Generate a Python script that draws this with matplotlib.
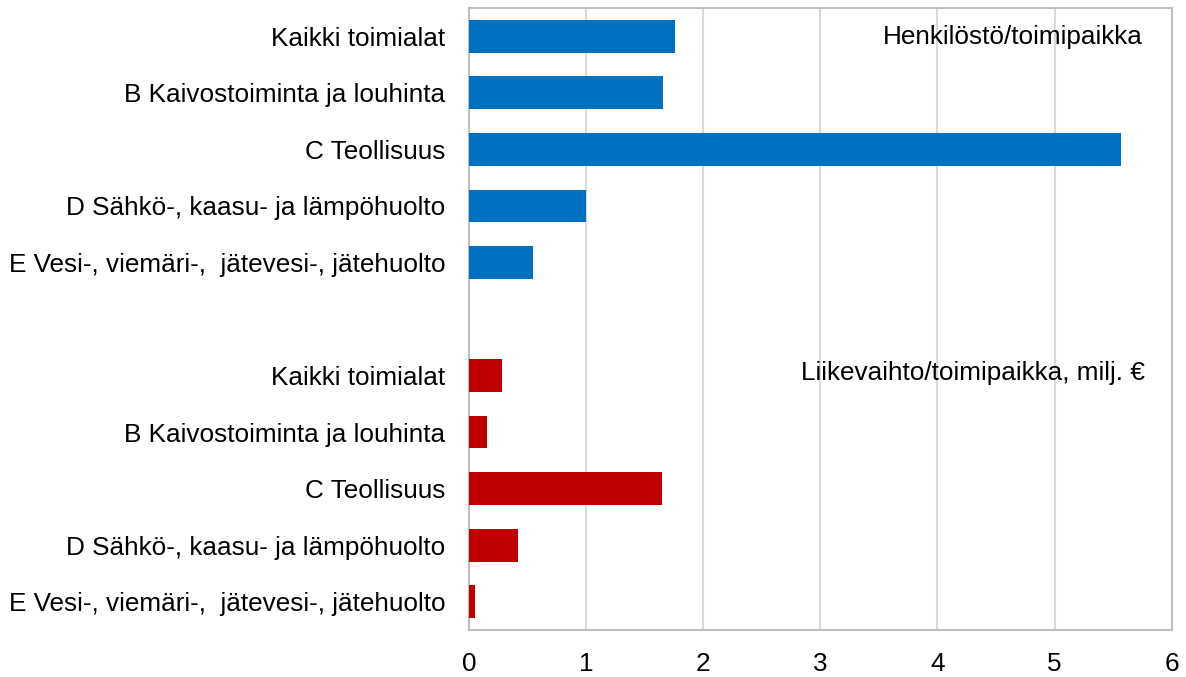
import matplotlib.pyplot as plt
import numpy as np

plt.rcParams["font.family"] = ["Liberation Sans", "DejaVu Sans"]

toimialat = [
    "Kaikki toimialat",
    "B Kaivostoiminta ja louhinta",
    "C Teollisuus",
    "D Sähkö-, kaasu- ja lämpöhuolto",
    "E Vesi-, viemäri-,  jätevesi-, jätehuolto",
]
henkilosto = [1.76, 1.66, 5.57, 1.00, 0.55]
liikevaihto = [0.28, 0.15, 1.65, 0.42, 0.05]

fs = 18.8

fig = plt.figure(figsize=(11.86, 6.77), dpi=100)
ax = fig.add_axes([0.3954, 0.0694, 0.5926, 0.9188])

n = len(toimialat)
pos_top = np.arange(n)
pos_bot = np.arange(n) + n + 1

ax.barh(pos_top, henkilosto, height=0.58, color="#0070C0", zorder=3)
ax.barh(pos_bot, liikevaihto, height=0.58, color="#C00000", zorder=3)

ax.set_yticks(list(pos_top) + list(pos_bot))
ax.set_yticklabels(toimialat + toimialat)
ax.set_ylim(2 * n + 0.5, -0.5)
ax.set_xlim(0, 6)
ax.set_xticks(range(0, 7))

ax.tick_params(axis="y", length=0, pad=17, labelsize=fs)
ax.tick_params(axis="x", length=0, pad=15.5, labelsize=fs)

ax.grid(axis="x", color="#d9d9d9", linewidth=1.5, zorder=0)
for s in ax.spines.values():
    s.set_color("#bfbfbf")
    s.set_linewidth(1.5)

ax.text(5.75, 0.02, "Henkilöstö/toimipaikka", ha="right", va="center", fontsize=fs)
ax.text(5.77, n + 0.95, "Liikevaihto/toimipaikka, milj. €", ha="right", va="center", fontsize=fs)

fig.savefig("out.png", dpi=100)
